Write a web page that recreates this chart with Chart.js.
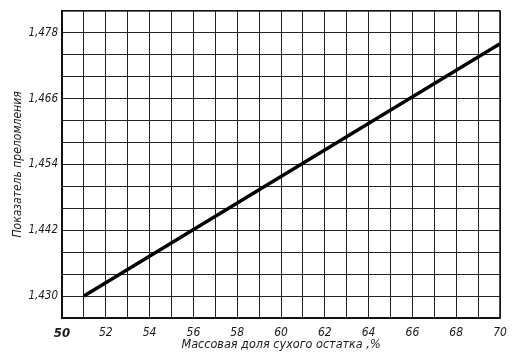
<!DOCTYPE html>
<html>
<head>
<meta charset="utf-8">
<script src="https://cdn.jsdelivr.net/npm/chart.js@4/dist/chart.umd.min.js"></script>
<style>
  html, body { margin: 0; padding: 0; background: #fff; }
  #wrap { width: 518px; height: 356px; position: relative; }
</style>
</head>
<body>
<div id="wrap"><canvas id="chart"></canvas></div>
<script>
// values
const massFraction = [51, 70];
const refractiveIndex = [1.430, 1.476];
const xLabels = [50, 52, 54, 56, 58, 60, 62, 64, 66, 68, 70];
const yLabels = [1.430, 1.442, 1.454, 1.466, 1.478];

const FONT = "'Liberation Sans Narrow', 'DejaVu Sans Condensed', 'Liberation Sans', sans-serif";
const INK = '#1a1a1a';

const points = massFraction.map((x, i) => ({ x: x, y: refractiveIndex[i] }));

// frame round the plot area (top and right edges)
const frame = {
    id: 'frame',
    afterDraw(chart) {
        const { ctx, chartArea: a } = chart;
        ctx.save();
        ctx.strokeStyle = '#111';
        ctx.lineWidth = 1.5;
        ctx.strokeRect(a.left, a.top, a.right - a.left, a.bottom - a.top);
        ctx.restore();
    }
};

new Chart(document.getElementById('chart'), {
    type: 'line',
    data: {
        datasets: [{
            data: points,
            borderColor: '#000',
            borderWidth: 3.4,
            pointRadius: 0,
            fill: false,
            tension: 0
        }]
    },
    options: {
        responsive: true,
        maintainAspectRatio: false,
        animation: false,
        layout: { padding: { top: 10, right: 18, left: 0, bottom: 0 } },
        plugins: { legend: { display: false }, tooltip: { enabled: false } },
        scales: {
            x: {
                type: 'linear',
                min: 50,
                max: 70,
                ticks: {
                    stepSize: 1,
                    autoSkip: false,
                    maxRotation: 0,
                    padding: 8,
                    color: INK,
                    font: (c) => c.tick && c.tick.value === 50
                        ? { family: FONT, size: 13, style: 'italic', weight: 'bold' }
                        : { family: FONT, size: 12, style: 'italic' },
                    callback: (v) => xLabels.includes(v) ? String(v) : ''
                },
                grid: { color: '#222', lineWidth: 1, drawTicks: false },
                border: { color: '#111', width: 1.5 },
                title: {
                    display: true,
                    text: 'Массовая доля сухого остатка ,%',
                    color: INK,
                    font: { family: FONT, size: 12.5, style: 'italic' },
                    padding: { top: 0, bottom: 4 }
                },
                afterFit: (s) => { s.height = 38; }
            },
            y: {
                type: 'linear',
                min: 1.426,
                max: 1.482,
                ticks: {
                    stepSize: 0.004,
                    autoSkip: false,
                    padding: 4,
                    color: INK,
                    font: { family: FONT, size: 11.5, style: 'italic' },
                    callback: (v) => yLabels.some(l => Math.abs(l - v) < 1e-6)
                        ? v.toFixed(3).replace('.', ',') : ''
                },
                grid: { color: '#222', lineWidth: 1, drawTicks: false },
                border: { color: '#111', width: 1.5 },
                title: {
                    display: true,
                    text: 'Показатель преломления',
                    color: INK,
                    font: { family: FONT, size: 12, style: 'italic' },
                    padding: { top: 11, bottom: 0 }
                },
                afterFit: (s) => { s.width = 62; }
            }
        }
    },
    plugins: [frame]
});
</script>
</body>
</html>
